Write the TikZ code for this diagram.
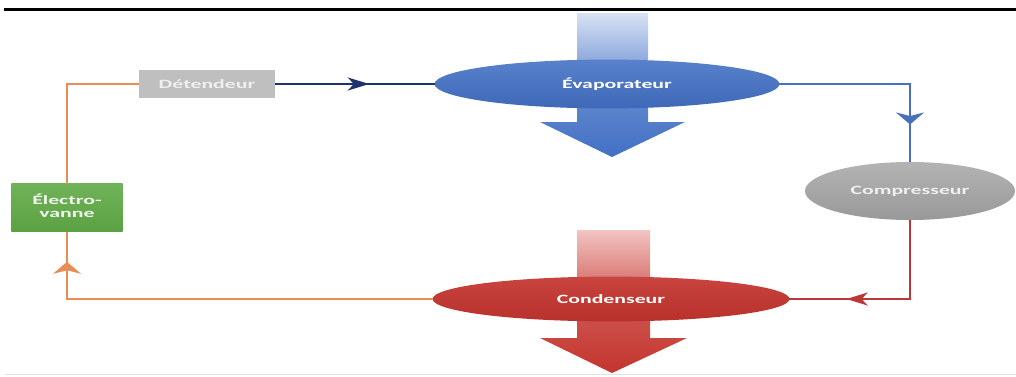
\documentclass[tikz,border=0pt]{standalone}
\usepackage{fontspec}
\setsansfont{Carlito}
\usepackage{graphicx}
\usepackage{tikz}
\usetikzlibrary{shapes.geometric,arrows.meta,decorations.markings}
\definecolor{evapblue}{RGB}{66,112,196}
\definecolor{evaplight}{RGB}{216,226,244}
\definecolor{condred}{RGB}{196,52,46}
\definecolor{condlight}{RGB}{242,196,194}
\definecolor{compgray}{RGB}{166,166,166}
\definecolor{detgray}{RGB}{191,191,191}
\definecolor{vannegreen}{RGB}{96,170,70}
\definecolor{pipeorange}{RGB}{232,142,84}
\definecolor{pipenavy}{RGB}{30,50,108}
\definecolor{pipeblue}{RGB}{72,112,188}
\definecolor{pipered}{RGB}{188,56,56}
\newcommand{\lbl}[1]{\scalebox{1.72}[1]{#1}}

\tikzset{
  lblfont/.style={font=\sffamily\bfseries\fontsize{9}{9.3}\selectfont, text=white},
  organe/.style={ellipse, draw=none, inner sep=0pt, outer sep=0pt, lblfont},
  boite/.style={rectangle, draw=none, inner sep=0pt, outer sep=0pt, lblfont},
  pipe/.style={line width=1.4pt},
  harrow/.style={decoration={markings, mark=at position #1 with
      {\arrow{Stealth[length=5.4mm,width=3.3mm,inset=1.6mm]}}}, postaction={decorate}},
  varrow/.style={decoration={markings, mark=at position #1 with
      {\arrow{Stealth[length=3mm,width=7mm,inset=0.9mm]}}}, postaction={decorate}},
}

\begin{document}
\begin{tikzpicture}[x=0.025cm, y=-0.025cm]
  \useasboundingbox (0,0) rectangle (1016,376);

  % traits du cadre
  \draw[line width=2.1pt] (4,9.5) -- (1016,9.5);
  \draw[black!12, line width=0.6pt] (5,374) -- (1016,374);

  % fleches de chaleur
  \shade[top color=evaplight, bottom color=evapblue, middle color=evapblue!75!evaplight]
    (577,13) -- (648,13) -- (648,122) -- (685,122) -- (612,157) -- (540,122) -- (577,122) -- cycle;
  \shade[top color=condlight, bottom color=condred, middle color=condred!75!condlight]
    (577,230) -- (650,230) -- (650,338) -- (687,338) -- (612,373) -- (540,338) -- (577,338) -- cycle;

  % organes
  \node[organe, minimum width=8.62cm, minimum height=1.22cm,
        top color=evapblue!88!white, bottom color=evapblue!94!black] (evap) at (607,84) {\hspace*{0.5cm}\lbl{Évaporateur}};
  \node[organe, minimum width=8.92cm, minimum height=1.12cm,
        top color=condred!92!white, bottom color=condred!94!black] (cond) at (611,299) {\lbl{Condenseur}};
  \node[organe, minimum width=5.25cm, minimum height=1.45cm, text=white!94!black,
        top color=compgray!85!white, bottom color=compgray!92!black] (comp) at (910,191) {\lbl{Compresseur}};
  \node[boite, fill=detgray, minimum width=3.4cm, minimum height=0.7cm,
        text=white!94!black] (det) at (207,84) {\lbl{Détendeur}};
  \node[boite, minimum width=2.78cm, minimum height=1.2cm, text=white!92!vannegreen,
        top color=vannegreen!90!white, bottom color=vannegreen!95!black] (vanne) at (67,207.5)
        {\lbl{\begin{tabular}{@{}c@{}}Électro-\\vanne\end{tabular}}};

  % circuit
  \draw[pipe, pipenavy, harrow=0.59] (det) -- (evap);
  \draw[pipe, pipeblue, varrow=0.82] (evap.east) -| (comp.north);
  \draw[pipe, pipered, harrow=0.715] (comp.south) |- (cond.east);
  \draw[pipe, pipeorange, varrow=0.93] (cond.west) -| (vanne.south);
  \draw[pipe, pipeorange] (det.west) -| (vanne.north);
\end{tikzpicture}
\end{document}
